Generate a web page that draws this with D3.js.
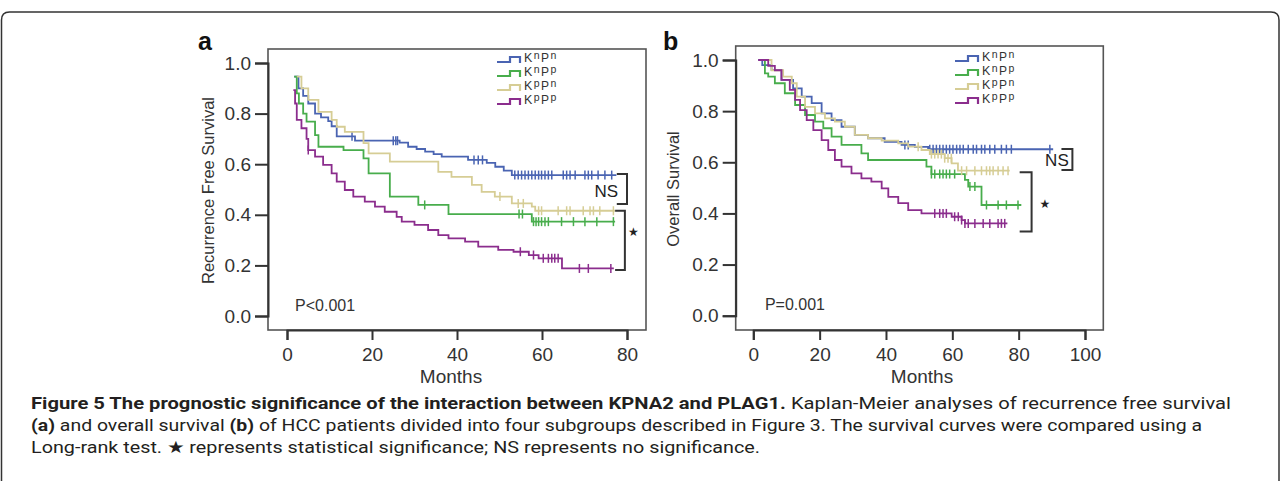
<!DOCTYPE html>
<html>
<head>
<meta charset="utf-8">
<script src="https://cdn.jsdelivr.net/npm/d3@7"></script>
<style>
body { margin: 0; background: #fff; }
svg text { font-family: "Liberation Sans", Arial, sans-serif; }
</style>
</head>
<body>
<svg width="1281" height="481"></svg>
<script>
// groups and legend text
const groups = ['KnPn', 'KnPp', 'KpPn', 'KpPp'];
const kSup = ['n', 'n', 'p', 'p'];
const pSup = ['n', 'p', 'n', 'p'];
const colors = ['#4a64b2', '#48ad4c', '#d6cd95', '#8b2d8d'];

const yTicks = [0, 0.2, 0.4, 0.6, 0.8, 1.0];
const rfsTicksX = [0, 20, 40, 60, 80];
const osTicksX = [0, 20, 40, 60, 80, 100];

// (a) recurrence free survival, steps as [month, survival]
const rfsKnPn = [[1.7,0.946],[2.7,0.90],[3.8,0.87],[5,0.84],[6.6,0.80],[8,0.785],[9.7,0.77],[10.5,0.75],[11.7,0.71],[16,0.693],[26.5,0.685],[28.5,0.669],[30.5,0.66],[32.5,0.65],[34.5,0.64],[36.4,0.63],[42.6,0.617],[47,0.605],[49,0.59],[51,0.575],[52.9,0.557],[77.5,0.557]];
const rfsKnPp = [[1.7,0.946],[2.3,0.88],[2.8,0.84],[3.8,0.80],[4.6,0.768],[6.6,0.715],[7.4,0.669],[13.3,0.656],[18,0.623],[19.2,0.564],[24.2,0.472],[30.9,0.439],[38,0.403],[57.6,0.373],[77.2,0.373]];
const rfsKpPn = [[2.3,0.946],[3.4,0.90],[5,0.854],[7.4,0.807],[10.5,0.775],[11.7,0.748],[13.6,0.728],[18,0.683],[19.2,0.643],[24.2,0.61],[35.6,0.57],[38.7,0.55],[43.5,0.518],[45.8,0.491],[48.9,0.472],[52.9,0.445],[57.6,0.432],[58.4,0.416],[77.2,0.416]];
const rfsKpPp = [[1.5,0.893],[1.9,0.84],[2.3,0.775],[3.4,0.742],[4.6,0.70],[5,0.656],[6.6,0.63],[8.5,0.597],[10.5,0.564],[11.7,0.531],[13.6,0.498],[15.6,0.472],[18.3,0.452],[20.7,0.432],[23,0.412],[25.8,0.392],[27,0.373],[30,0.36],[33.2,0.34],[35.6,0.32],[38,0.307],[41.9,0.294],[45,0.274],[49.7,0.261],[53.3,0.254],[56.9,0.241],[59.2,0.228],[64.7,0.188],[76.9,0.188]];

// (a) censored months
const rfsCensKnPn = [15.3,25,25.6,26,44,45,46,53.6,54.4,55.2,56,56.8,57.6,58.4,59.2,59.9,60.7,61.5,62.3,65,65.8,66.6,67.8,70.1,70.9,71.7,73.2,74.8,76.4];
const rfsCensKnPp = [32.4,54.6,55.4,58,58.6,59.2,59.9,60.7,61.5,64.6,67.4,70.1,72.9,76.8];
const rfsCensKpPn = [50.1,54.4,55.6,59.2,59.9,63.8,65.8,66.6,69.7,71.3,72.1,73.6,76.8];
const rfsCensKpPp = [5,54.9,58,60.3,61.5,62.3,63,63.8,68.8,70.9,76.2];

// (b) overall survival
const osKnPn = [[1.5,1.0],[2.7,0.98],[5.5,0.961],[8.5,0.922],[12,0.889],[14.6,0.857],[17.6,0.831],[20.6,0.791],[23.6,0.765],[26.6,0.739],[30.6,0.707],[34.6,0.694],[39.6,0.68],[44.7,0.668],[48.7,0.66],[52.7,0.651],[90.4,0.651]];
const osKnPp = [[2,1.0],[3.5,0.948],[4.5,0.935],[6.5,0.909],[9.5,0.87],[12.6,0.824],[15.6,0.785],[18.6,0.759],[21.1,0.733],[23.6,0.70],[26.6,0.668],[32.6,0.635],[34.6,0.609],[52.2,0.583],[53.7,0.554],[63.8,0.531],[64.8,0.505],[68.8,0.433],[80.8,0.433]];
const osKpPn = [[2,1.0],[5.5,0.96],[9,0.935],[11.6,0.909],[13.1,0.857],[15.6,0.817],[18.6,0.791],[21.6,0.772],[24.6,0.759],[27.6,0.739],[30.6,0.707],[34.6,0.694],[38.7,0.685],[43.7,0.674],[46.7,0.661],[50.7,0.648],[53.2,0.632],[57.7,0.616],[59.8,0.596],[61.7,0.567],[77.3,0.567]];
const osKpPp = [[1.5,1.0],[4.5,0.977],[6.5,0.96],[8.5,0.922],[11,0.883],[12.6,0.844],[14.1,0.804],[16.1,0.765],[18.1,0.726],[20.6,0.687],[22.6,0.648],[24.6,0.609],[26.6,0.583],[29.6,0.557],[32.6,0.537],[35.6,0.524],[38.7,0.498],[40.7,0.465],[43.7,0.44],[46.7,0.413],[50.7,0.40],[59.8,0.387],[62.8,0.374],[63.8,0.361],[76.6,0.361]];

const osCensKnPn = [45.7,46.7,53.2,54.2,55.2,56.2,57.2,58.2,59.2,60.2,61.3,62.3,63.3,64.8,66.3,67.3,68.8,69.8,71.3,72.8,74.8,76.3,77.8,89.4];
const osCensKnPp = [53.7,54.7,56.2,57.2,58.2,59.2,60.7,65.3,66.8,70.3,73.8,76.3,79.8];
const osCensKpPn = [49.7,53.7,54.7,55.7,56.7,57.7,58.7,59.7,62.8,64.3,66.8,68.8,70.3,71.3,72.3,73.8,75.3,76.8];
const osCensKpPp = [54.7,56.2,57.2,58.2,60.7,61.8,62.8,63.8,64.8,66.8,69.3,71.3,73.8,74.8,75.8];

const svg = d3.select('svg');

// page frame
svg.append('path')
  .attr('d', 'M1.5,481 V20 Q1.5,12 9.5,12 H1271 Q1279,12 1279,20 V481')
  .attr('fill', 'none')
  .attr('stroke', '#333')
  .attr('stroke-width', 1.5);

function survAt(steps, t) {
  let s = steps[0][1];
  steps.forEach(d => { if (d[0] <= t) s = d[1]; });
  return s;
}

function drawPanel(p) {
  const x = d3.scaleLinear().domain(p.xDomain).range(p.xRange);
  const y = d3.scaleLinear().domain([0, 1]).range(p.yRange);
  const g = svg.append('g');

  // plot box
  g.append('rect')
    .attr('x', p.box[0]).attr('y', p.box[1])
    .attr('width', p.box[2] - p.box[0]).attr('height', p.box[3] - p.box[1])
    .attr('fill', 'none').attr('stroke', '#555').attr('stroke-width', 1.6);

  const yAxis = g.append('g')
    .attr('transform', `translate(${p.box[0]},0)`)
    .call(d3.axisLeft(y).tickValues(yTicks).tickFormat(d3.format('.1f')).tickSize(13).tickPadding(4));
  const xAxis = g.append('g')
    .attr('transform', `translate(0,${p.box[3]})`)
    .call(d3.axisBottom(x).tickValues(p.xTicks).tickSize(10).tickPadding(8));
  [yAxis, xAxis].forEach(a => {
    a.select('.domain').attr('stroke', '#333').attr('stroke-width', 2);
    a.selectAll('line').attr('stroke', '#333').attr('stroke-width', 2);
    a.selectAll('text').attr('fill', '#333').style('font-size', '19px');
  });

  g.append('text')
    .attr('transform', `translate(${p.yLabelX},${(p.box[1] + p.box[3]) / 2 + 1}) rotate(-90)`)
    .attr('text-anchor', 'middle')
    .attr('fill', '#333').style('font-size', '16.5px')
    .text(p.yLabel);
  g.append('text')
    .attr('x', p.xLabelX).attr('y', 383)
    .attr('text-anchor', 'middle')
    .attr('fill', '#333').style('font-size', '19px')
    .text('Months');

  g.append('text')
    .attr('x', p.letterX).attr('y', 50)
    .attr('fill', '#111').style('font-size', '25px').style('font-weight', 'bold')
    .text(p.letter);

  const line = d3.line().x(d => x(d[0])).y(d => y(d[1])).curve(d3.curveStepAfter);

  p.steps.forEach((s, i) => {
    g.append('path')
      .attr('d', line(s))
      .attr('fill', 'none')
      .attr('stroke', colors[i])
      .attr('stroke-width', 1.8);
    g.selectAll(null)
      .data(p.censor[i])
      .join('line')
      .attr('x1', d => x(d)).attr('x2', d => x(d))
      .attr('y1', d => y(survAt(s, d)) - 4.5)
      .attr('y2', d => y(survAt(s, d)) + 4.5)
      .attr('stroke', colors[i])
      .attr('stroke-width', 1.5);
  });

  // legend
  const lg = g.append('g').attr('transform', `translate(${p.legendX},${p.legendY})`);
  groups.forEach((name, i) => {
    const row = lg.append('g').attr('transform', `translate(0,${i * 14})`);
    row.append('path')
      .attr('d', 'M0,0 H13 V-5 H23 V1')
      .attr('fill', 'none').attr('stroke', colors[i]).attr('stroke-width', 2.2);
    const t = row.append('text').attr('x', 27).attr('y', 0).attr('fill', '#333')
      .style('font-size', '12.5px').style('letter-spacing', '1.4px');
    t.append('tspan').text('K');
    t.append('tspan').attr('dy', -3).style('font-size', '10.5px').text(kSup[i]);
    t.append('tspan').attr('dy', 3).style('font-size', '12px').text('P');
    t.append('tspan').attr('dy', -3).style('font-size', '10.5px').text(pSup[i]);
  });

  // brackets
  p.brackets.forEach(b => {
    g.append('path')
      .attr('d', `M${x(b.x0)},${y(b.y0)} H${x(b.x1)} V${y(b.y1)} H${x(b.x0)}`)
      .attr('fill', 'none').attr('stroke', '#333').attr('stroke-width', 2);
    g.append('text')
      .attr('x', x(b.tx)).attr('y', y(b.ty))
      .attr('text-anchor', b.anchor)
      .attr('fill', '#222')
      .style('font-size', b.size)
      .style('font-family', b.font)
      .text(b.label);
  });

  g.append('text')
    .attr('x', x(p.pPos[0])).attr('y', y(p.pPos[1]))
    .attr('fill', '#333').style('font-size', '16px')
    .text(p.pText);
}

drawPanel({
  letter: 'a', letterX: 198,
  box: [268, 49, 646, 330],
  xDomain: [0, 80], xRange: [287, 627], yRange: [316, 63],
  xTicks: rfsTicksX,
  yLabel: 'Recurrence Free Survival', yLabelX: 214, xLabelX: 451,
  steps: [rfsKnPn, rfsKnPp, rfsKpPn, rfsKpPp],
  censor: [rfsCensKnPn, rfsCensKnPp, rfsCensKpPn, rfsCensKpPp],
  legendX: 497, legendY: 62,
  brackets: [
    {x0: 77.6, x1: 80, y0: 0.561, y1: 0.443, label: 'NS', tx: 77.9, ty: 0.47, anchor: 'end', size: '17px', font: '"Liberation Sans", Arial, sans-serif'},
    {x0: 77.2, x1: 79.5, y0: 0.416, y1: 0.182, label: '★', tx: 81.5, ty: 0.318, anchor: 'middle', size: '12px', font: '"DejaVu Sans", sans-serif'}
  ],
  pText: 'P<0.001', pPos: [1.9, 0.02]
});

drawPanel({
  letter: 'b', letterX: 663,
  box: [735.7, 46, 1103.3, 330],
  xDomain: [0, 100], xRange: [753.3, 1085], yRange: [315.7, 60],
  xTicks: osTicksX,
  yLabel: 'Overall Survival', yLabelX: 679, xLabelX: 922,
  steps: [osKnPn, osKnPp, osKpPn, osKpPp],
  censor: [osCensKnPn, osCensKnPp, osCensKpPn, osCensKpPp],
  legendX: 955, legendY: 61,
  brackets: [
    {x0: 92.9, x1: 96.2, y0: 0.652, y1: 0.570, label: 'NS', tx: 95.1, ty: 0.587, anchor: 'end', size: '17px', font: '"Liberation Sans", Arial, sans-serif'},
    {x0: 80.3, x1: 83.9, y0: 0.561, y1: 0.329, label: '★', tx: 87.9, ty: 0.422, anchor: 'middle', size: '12px', font: '"DejaVu Sans", sans-serif'}
  ],
  pText: 'P=0.001', pPos: [3.5, 0.022]
});

// caption
const captionLines = [
  [['Figure 5 The prognostic significance of the interaction between KPNA2 and PLAG1.', true], [' Kaplan-Meier analyses of recurrence free survival', false]],
  [['(a)', true], [' and overall survival ', false], ['(b)', true], [' of HCC patients divided into four subgroups described in Figure 3. The survival curves were compared using a', false]],
  [['Long-rank test. \u2605 represents statistical significance; NS represents no significance.', false]]
];
const captionWidths = [1200, 1171, 729];

captionLines.forEach((parts, i) => {
  const t = svg.append('text')
    .attr('x', 31).attr('y', 409 + i * 22)
    .attr('fill', '#231f20')
    .style('font-family', 'Roboto, "Noto Sans", sans-serif')
    .style('font-size', '17px')
    .attr('textLength', captionWidths[i])
    .attr('lengthAdjust', 'spacingAndGlyphs');
  parts.forEach(pt => {
    t.append('tspan').style('font-weight', pt[1] ? 'bold' : 'normal').text(pt[0]);
  });
});
</script>
</body>
</html>
